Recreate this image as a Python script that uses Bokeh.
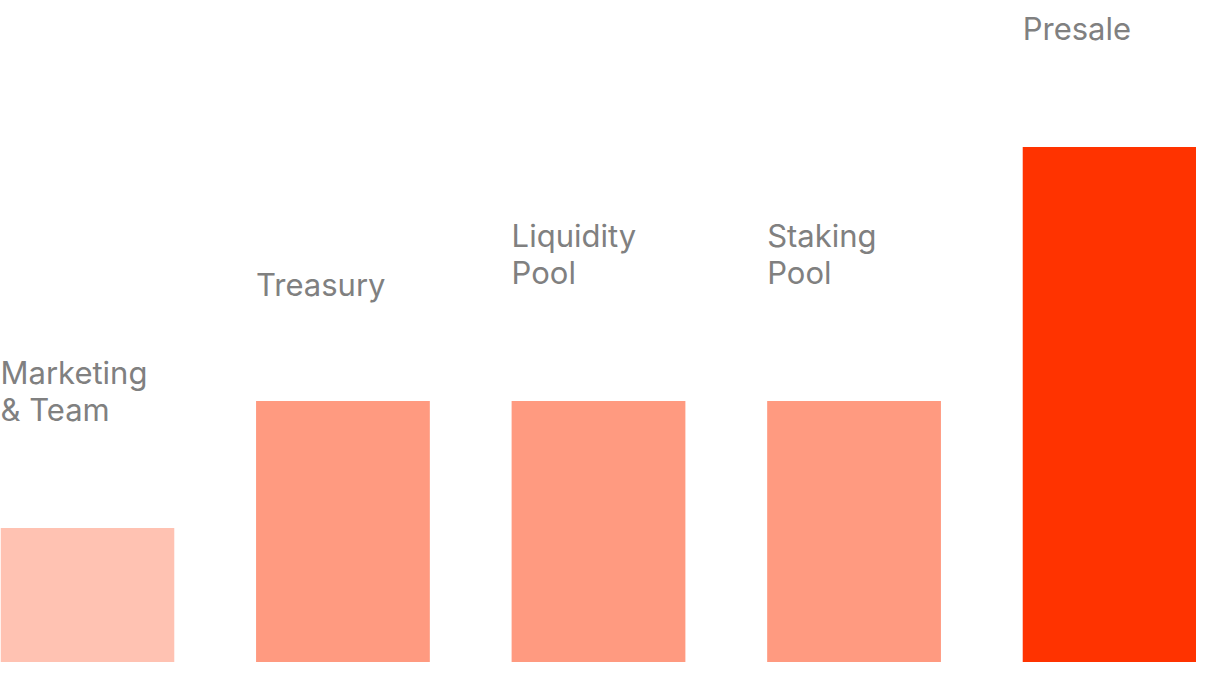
from bokeh.plotting import figure
from bokeh.models import ColumnDataSource, Range1d
from bokeh.core.properties import value
from bokeh.embed import file_html
from bokeh.resources import INLINE

# ---- data ----
categories = ["Marketing\n& Team", "Treasury", "Liquidity\nPool", "Staking\nPool", "Presale"]
values = [10, 20, 20, 20, 40]
colors = ["#FFC2B2", "#FF9A80", "#FF9A80", "#FF9A80", "#FF3300"]

# ---- layout (reference pixels) ----
W, H = 1196, 662
REF_W, REF_H = 1212, 678
sx, sy = W / REF_W, H / REF_H
label_gap = [180, 140, 190, 190, 142]  # ref px from bar top to label cap top
FONT_PX = 31
CAP_INSET = -2  # approx px from text box top to cap top

idx = list(range(len(values)))
bar_w = 0.68
src = ColumnDataSource(dict(
    x=idx, top=values, color=colors,
    lx=[i - bar_w / 2 for i in idx],
    label=categories,
))

p = figure(width=W, height=H, output_backend="svg", toolbar_location=None,
           x_range=Range1d(-0.34, len(values) - 1 + 0.34),
           y_range=Range1d(-0.6, 51.55),
           min_border=0, min_border_left=0, min_border_right=0,
           min_border_top=0, min_border_bottom=0)
p.axis.visible = False
p.grid.visible = False
p.outline_line_color = None
p.background_fill_color = "white"
p.border_fill_color = "white"

p.vbar(x="x", top="top", bottom=-0.6, width=bar_w, fill_color="color",
       line_color=None, source=src)

for i in idx:
    off = -(label_gap[i] * sy) - CAP_INSET
    p.text(x=[src.data["lx"][i]], y=[values[i]], text=[categories[i]],
           text_font=value("Inter"), text_font_size=f"{FONT_PX}px",
           text_color="#808080", text_align="left", text_baseline="top",
           text_line_height=1.0, y_offset=off)

open("out.html", "w").write(file_html(p, INLINE))
